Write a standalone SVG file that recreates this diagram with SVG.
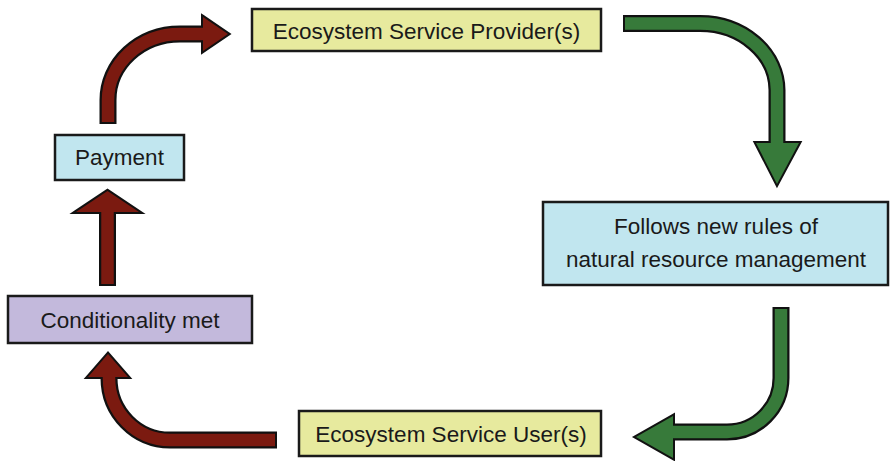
<svg xmlns="http://www.w3.org/2000/svg" width="891" height="461" viewBox="0 0 891 461">
<style>
.box{stroke:#1a1a1a;stroke-width:2.5}
.yel{fill:#e7ea9e}
.blu{fill:#c1e6ef}
.pur{fill:#c3b9dc}
.lbl{font-family:"Liberation Sans",Arial,sans-serif;font-size:22.5px;fill:#1a1a1a;text-anchor:middle;dominant-baseline:central}
.sho{fill:none;stroke:#111;stroke-width:17}
.hdo{fill:#111;stroke:#111;stroke-width:4;stroke-linejoin:miter}
.red{stroke:#7b1a10}
.grn{stroke:#377a3a}
.shf{fill:none;stroke-width:12.5}
.hr{fill:#7b1a10}
.hg{fill:#377a3a}
</style>
<rect width="891" height="461" fill="#fff"/>
<g id="connectors">
  <g id="arrow-payment-provider">
    <path class="sho" d="M108,124 L108,100 A72 66 0 0 1 180,34 L204,34"/>
    <polygon class="hdo" points="203,17 228,34 203,51"/>
    <path class="shf red" d="M108,122 L108,100 A72 66 0 0 1 180,34 L206,34"/>
    <polygon class="hr" points="203,17 228,34 203,51"/>
  </g>
  <g id="arrow-provider-follows">
    <path class="sho" d="M623,23.5 L700,23.5 A77 67 0 0 1 777,90 L777,145"/>
    <polygon class="hdo" points="756,143 799,143 777,184"/>
    <path class="shf grn" d="M625,23.5 L700,23.5 A77 67 0 0 1 777,90 L777,147"/>
    <polygon class="hg" points="756,143 799,143 777,184"/>
  </g>
  <g id="arrow-follows-user">
    <path class="sho" d="M781,307 L781,378 A54 54 0 0 1 727,432 L671,432"/>
    <polygon class="hdo" points="673,416 636,437 673,458"/>
    <path class="shf grn" d="M781,309 L781,378 A54 54 0 0 1 727,432 L669,432"/>
    <polygon class="hg" points="673,416 636,437 673,458"/>
  </g>
  <g id="arrow-user-conditionality">
    <path class="sho" d="M277,440 L170,440 A61 62 0 0 1 109,378 L109,375"/>
    <polygon class="hdo" points="88,377 108,354 128,377"/>
    <path class="shf red" d="M275,440 L170,440 A61 62 0 0 1 109,378 L109,373"/>
    <polygon class="hr" points="88,377 108,354 128,377"/>
  </g>
  <g id="arrow-conditionality-payment">
    <path class="sho" d="M107.5,286 L107.5,211"/>
    <polygon class="hdo" points="76,212 107.5,191 139,212"/>
    <path class="shf red" d="M107.5,284 L107.5,209"/>
    <polygon class="hr" points="76,212 107.5,191 139,212"/>
  </g>
</g>
<g id="node-provider">
  <rect class="box yel" x="252" y="9" width="349" height="42"/>
  <text class="lbl" x="426.5" y="31">Ecosystem Service Provider(s)</text>
</g>
<g id="node-follows">
  <rect class="box blu" x="543" y="202" width="345" height="83"/>
  <text class="lbl" x="716" y="226">Follows new rules of</text>
  <text class="lbl" x="716" y="259">natural resource management</text>
</g>
<g id="node-user">
  <rect class="box yel" x="299" y="411" width="302" height="45"/>
  <text class="lbl" x="451" y="434">Ecosystem Service User(s)</text>
</g>
<g id="node-conditionality">
  <rect class="box pur" x="8" y="296" width="244" height="47"/>
  <text class="lbl" x="130" y="320">Conditionality met</text>
</g>
<g id="node-payment">
  <rect class="box blu" x="55" y="135" width="129" height="45"/>
  <text class="lbl" x="119.5" y="157">Payment</text>
</g>
</svg>
